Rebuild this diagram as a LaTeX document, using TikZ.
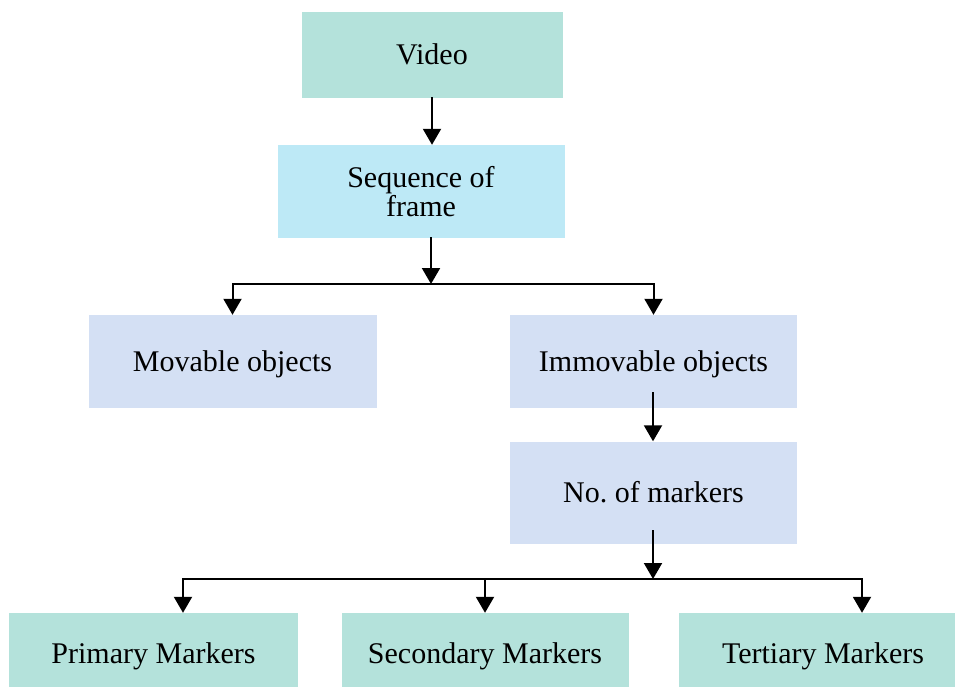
\documentclass[tikz,border=0pt]{standalone}
\usepackage{fontspec}
\setmainfont{Liberation Serif}
\usetikzlibrary{arrows.meta}
\definecolor{tealbox}{HTML}{B4E2DB}
\definecolor{cyanbox}{HTML}{BDE9F6}
\definecolor{bluebox}{HTML}{D4E0F4}
\begin{document}
\begin{tikzpicture}[x=1pt,y=-1pt,
  box/.style={rectangle,inner sep=0pt,align=center,
    font=\fontsize{30}{29}\selectfont},
  oneline/.style={box,text height=20pt,text depth=0pt},
  conn/.style={line width=2pt,black,line cap=rect},
  arr/.style={conn,-{Triangle[width=18pt,length=16pt]}}]
\useasboundingbox (0,0) rectangle (955,687);
\clip (0,0) rectangle (955,687);

% boxes
\node[oneline,fill=tealbox,minimum width=261pt,minimum height=86pt] (video) at (432,55) {Video};
\node[box,fill=cyanbox,minimum width=287pt,minimum height=93pt] (seq) at (421,191.5) {Sequence of\\frame};
\node[oneline,fill=bluebox,minimum width=288pt,minimum height=93pt] (mov) at (232.5,361.5) {Movable objects};
\node[oneline,fill=bluebox,minimum width=287pt,minimum height=93pt] (imm) at (653.5,361.5) {Immovable objects};
\node[oneline,fill=bluebox,minimum width=287pt,minimum height=102pt] (nmark) at (653.5,492.5) {No.\ of markers};
\node[oneline,fill=tealbox,minimum width=289pt,minimum height=80pt] (prim) at (153.5,653) {Primary Markers};
\node[oneline,fill=tealbox,minimum width=287pt,minimum height=80pt] (sec) at (485,653) {Secondary Markers};
\node[oneline,fill=tealbox,minimum width=288pt,minimum height=80pt] (ter) at (823,653) {Tertiary Markers};

% branch points
\coordinate (split1) at (431,284);
\coordinate (immout) at (653,393);
\coordinate (nmout) at (653,531);
\coordinate (split2) at (653,579);
\coordinate (pbr) at (183,579);
\coordinate (sbr) at (485,579);
\coordinate (tbr) at (862,579);

% connectors
\draw[arr] (video.south) -- (video.south |- seq.north);
\draw[arr] (split1 |- seq.south) -- (split1);
\draw[conn] (mov.north |- split1) -- (imm.north |- split1);
\draw[arr] (mov.north |- split1) -- (mov.north);
\draw[arr] (imm.north |- split1) -- (imm.north);
\draw[arr] (immout) -- (immout |- nmark.north);
\draw[arr] (nmout) -- (split2);
\draw[conn] (pbr) -- (tbr);
\draw[arr] (pbr) -- (pbr |- prim.north);
\draw[arr] (sbr) -- (sbr |- sec.north);
\draw[arr] (tbr) -- (tbr |- ter.north);
\end{tikzpicture}
\end{document}
